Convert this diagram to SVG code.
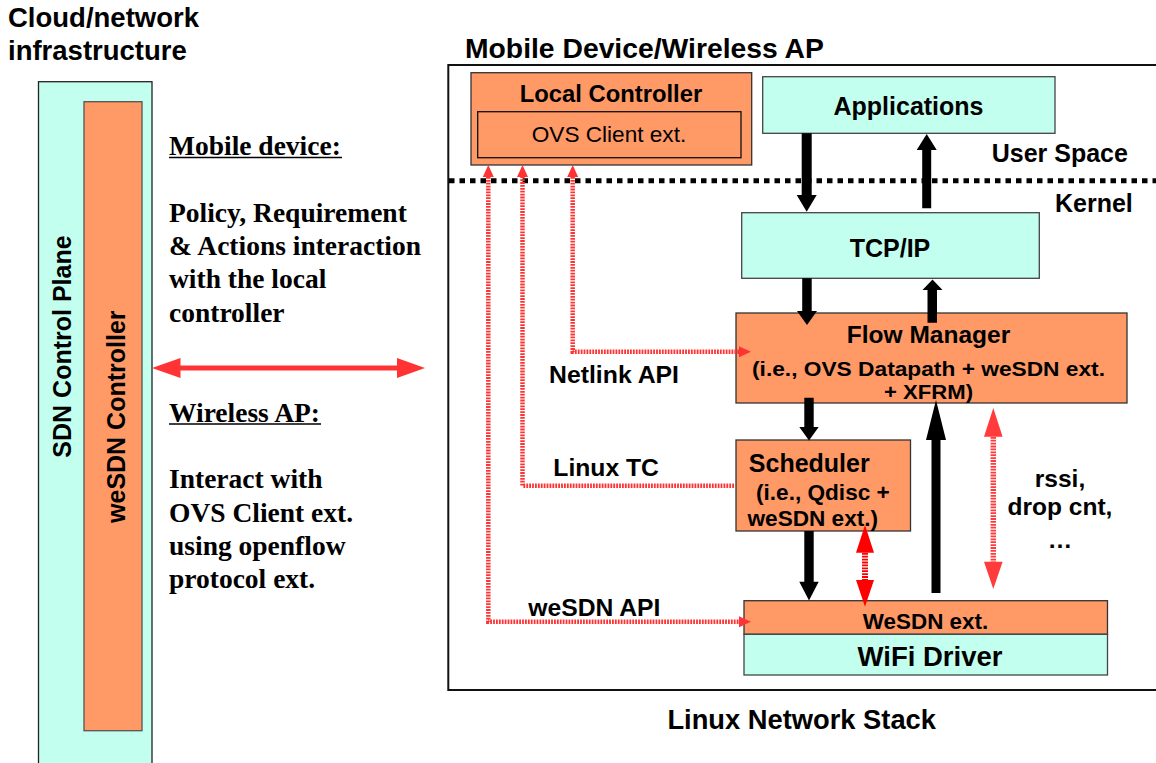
<svg xmlns="http://www.w3.org/2000/svg" width="1156" height="763" viewBox="0 0 1156 763">
  <style>
    .sans { font-family: "Liberation Sans", Arial, sans-serif; font-weight: bold; fill: #000; }
    .reg { font-family: "Liberation Sans", Arial, sans-serif; font-weight: normal; fill: #000; }
    .serif { font-family: "Liberation Serif", "Times New Roman", serif; font-weight: bold; font-size: 27.5px; fill: #000; }
    .mid { text-anchor: middle; }
    .orange { fill: #FF9966; stroke: #333; stroke-width: 1.3; }
    .cyan { fill: #C2FFEE; stroke: #444; stroke-width: 1.3; }
    .api { fill: none; stroke: #FF3333; stroke-width: 4.5; stroke-dasharray: 1.8 1.1; }
    .black { fill: #000; }
  </style>
  <defs>
    <marker id="redHead" markerUnits="userSpaceOnUse" markerWidth="12" markerHeight="12" refX="0" refY="6" orient="auto-start-reverse" viewBox="0 0 12 12">
      <path d="M0,0.5 L12,6 L0,11.5 z" fill="#FF3333"/>
    </marker>
  </defs>

  <!-- cloud side -->
  <g id="cloud-title">
    <text class="sans" x="8" y="26.7" font-size="27.5">Cloud/network</text>
    <text class="sans" x="8" y="60" font-size="27.5">infrastructure</text>
  </g>
  <g id="sdn-control-plane">
    <rect x="38.5" y="81.7" width="113.5" height="700" fill="#C2FFEE" stroke="#222" stroke-width="1.3"/>
    <text class="sans mid" font-size="25" transform="translate(70.5,346.5) rotate(-90)">SDN Control Plane</text>
  </g>
  <g id="wesdn-controller">
    <rect x="84" y="101.7" width="58" height="629" fill="#FF9966" stroke="#555" stroke-width="1.3"/>
    <text class="sans mid" font-size="25" transform="translate(125,416.7) rotate(-90)">weSDN Controller</text>
  </g>

  <!-- description of the interaction -->
  <g id="interaction-notes">
    <text class="serif" x="169" y="155">Mobile device:</text>
    <line x1="169" y1="157.5" x2="342" y2="157.5" stroke="#000" stroke-width="1.6"/>
    <text class="serif" x="169" y="222">Policy, Requirement</text>
    <text class="serif" x="169" y="255">&amp; Actions interaction</text>
    <text class="serif" x="169" y="288">with the local</text>
    <text class="serif" x="169" y="322">controller</text>
    <text class="serif" x="169" y="421.5">Wireless AP:</text>
    <line x1="169" y1="424" x2="321" y2="424" stroke="#000" stroke-width="1.6"/>
    <text class="serif" x="169" y="488">Interact with</text>
    <text class="serif" x="169" y="521.7">OVS Client ext.</text>
    <text class="serif" x="169" y="555">using openflow</text>
    <text class="serif" x="169" y="588">protocol ext.</text>
  </g>

  <!-- device frame -->
  <g id="device-frame">
    <text class="sans" x="465" y="57.7" font-size="28.3">Mobile Device/Wireless AP</text>
    <rect x="448.3" y="65" width="720" height="625" fill="none" stroke="#111" stroke-width="2"/>
    <line x1="449" y1="180.7" x2="1156" y2="180.7" stroke="#000" stroke-width="5" stroke-dasharray="5.5 5"/>
    <text class="sans" x="991.7" y="161.7" font-size="25">User Space</text>
    <text class="sans" x="1055" y="211.7" font-size="25">Kernel</text>
    <text class="sans mid" x="801.7" y="729" font-size="27.3">Linux Network Stack</text>
  </g>

  <g id="local-controller">
    <rect class="orange" x="471" y="72.7" width="280.7" height="92.3"/>
    <text class="sans mid" x="611" y="102.3" font-size="23.8">Local Controller</text>
    <rect x="477.7" y="111.7" width="263.3" height="46" fill="none" stroke="#111" stroke-width="1.3"/>
    <text class="reg mid" x="609" y="142" font-size="22.6">OVS Client ext.</text>
  </g>

  <g id="applications">
    <rect class="cyan" x="762.7" y="76.7" width="292.3" height="56.6"/>
    <text class="sans mid" x="908.5" y="115" font-size="25">Applications</text>
  </g>

  <g id="tcp-ip">
    <rect class="cyan" x="741.7" y="212.7" width="297.6" height="65.6"/>
    <text class="sans mid" x="890" y="256.7" font-size="25">TCP/IP</text>
  </g>

  <g id="flow-manager">
    <rect class="orange" x="736" y="313" width="391" height="90"/>
    <text class="sans mid" x="928.5" y="343" font-size="24.5">Flow Manager</text>
    <text class="sans mid" x="928.5" y="376" font-size="19.5" textLength="353" lengthAdjust="spacingAndGlyphs">(i.e., OVS Datapath + weSDN ext.</text>
    <text class="sans mid" x="928.5" y="398.5" font-size="19.5" textLength="89" lengthAdjust="spacingAndGlyphs">+ XFRM)</text>
  </g>

  <g id="scheduler">
    <rect class="orange" x="736" y="440" width="174.5" height="91"/>
    <text class="sans" x="748.8" y="471.7" font-size="25">Scheduler</text>
    <text class="sans" x="756" y="500" font-size="22.6">(i.e., Qdisc +</text>
    <text class="sans" x="747.5" y="526" font-size="22.6">weSDN ext.)</text>
  </g>

  <g id="wesdn-ext">
    <rect class="orange" x="744" y="600.7" width="363.5" height="33.6"/>
    <text class="sans mid" x="925.5" y="629" font-size="22.4">WeSDN ext.</text>
  </g>

  <g id="wifi-driver">
    <rect class="cyan" x="744" y="634.3" width="363.5" height="40.7"/>
    <text class="sans mid" x="930" y="666" font-size="27.5">WiFi Driver</text>
  </g>

  <g id="feedback-label">
    <text class="sans mid" x="1060" y="486.7" font-size="24.5">rssi,</text>
    <text class="sans mid" x="1060" y="515" font-size="24.5">drop cnt,</text>
    <text class="sans mid" x="1060" y="547.7" font-size="24.5">…</text>
  </g>

  <g id="api-labels">
    <text class="sans" x="549" y="383" font-size="24.8">Netlink API</text>
    <text class="sans" x="553.3" y="475.7" font-size="24.7">Linux TC</text>
    <text class="sans" x="528.3" y="615.7" font-size="24.7">weSDN API</text>
  </g>

  <g id="connectors">
    <!-- controller link to the cloud -->
    <path d="M152,368 L180.5,358 L180.5,365.5 L397,365.5 L397,358 L425,368 L397,378 L397,370.5 L180.5,370.5 L180.5,378 z" fill="#FF3333"/>

    <!-- data path arrows -->
    <path class="black" d="M801.7,133.3 H811.7 V195 H816.7 L806.7,211.7 L796.7,195 H801.7 z"/>
    <path class="black" d="M922.2,208.3 V150 H916.7 L926.7,134 L936.7,150 H931.2 V208.3 z"/>
    <path class="black" d="M802.2,278.3 H811.7 V311 H817 L807,325 L797,311 H802.2 z"/>
    <path class="black" d="M927.5,322.7 V290 H922.5 L932.5,279.5 L942.5,290 H937 V322.7 z"/>
    <path class="black" d="M804.3,397.7 H813.7 V427 H818.7 L809,440.5 L799.3,427 H804.3 z"/>
    <path class="black" d="M804.3,531 H813.7 V581.7 H818.7 L809,600.5 L799.3,581.7 H804.3 z"/>
    <path class="black" d="M931.5,593 V440 H926 L936,400 L946,440 H940.5 V593 z"/>

    <!-- API paths to the local controller -->
    <path class="api" d="M572.7,177 V351.7 H739" marker-start="url(#redHead)" marker-end="url(#redHead)"/>
    <path class="api" d="M734,485.7 H522.5 V177" marker-end="url(#redHead)"/>
    <path class="api" d="M488.3,177 V621.7 H739" marker-start="url(#redHead)" marker-end="url(#redHead)"/>

    <!-- scheduler / driver exchange -->
    <line x1="865" y1="550" x2="865" y2="583" stroke="#FF0000" stroke-width="6" stroke-dasharray="1.8 1.1"/>
    <path d="M865,525 L874,552.7 L856,552.7 z M865,606.7 L874,580 L856,580 z" fill="#FF0000"/>

    <!-- driver statistics up to the flow manager -->
    <line x1="993.3" y1="434" x2="993.3" y2="564" stroke="#FF3B3B" stroke-width="5.5" stroke-dasharray="1.8 1.1"/>
    <path d="M993.3,408 L1002.6,436.7 L984,436.7 z M993.3,589 L1002.6,561.7 L984,561.7 z" fill="#FF3B3B"/>
  </g>
</svg>
